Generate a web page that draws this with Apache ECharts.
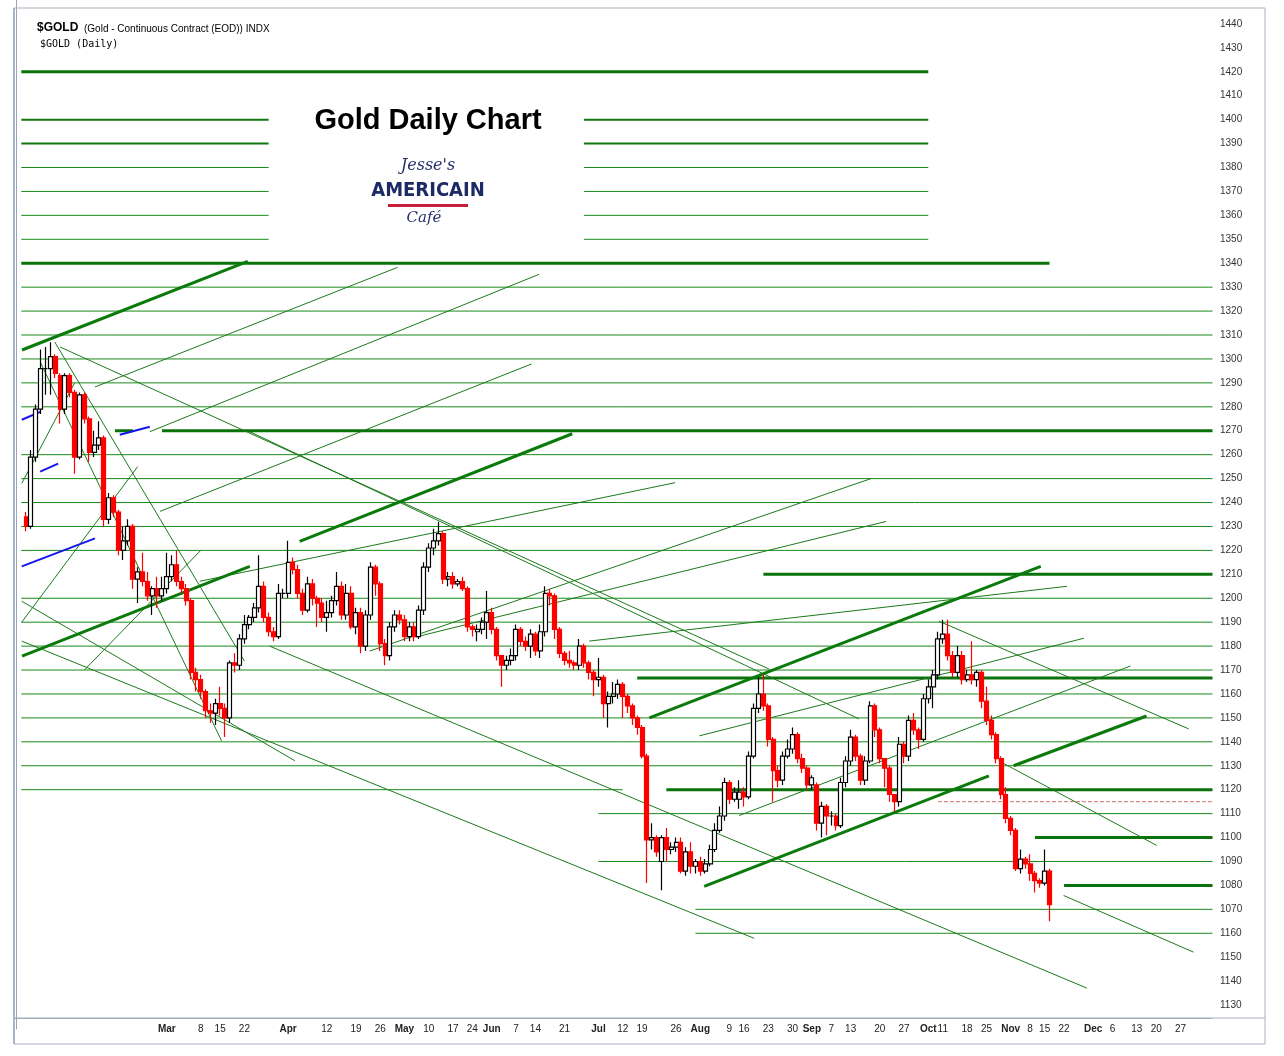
<!DOCTYPE html>
<html><head><meta charset="utf-8">
<script src="https://cdn.jsdelivr.net/npm/echarts@6/dist/echarts.min.js"></script>
<style>html,body{margin:0;padding:0;background:#fff}#c{width:1284px;height:1056px}</style>
</head><body><div id="c"></div>
<script>
// ---- DATA ----
const SLOTS = 247;           // trading-day slots on the x axis
const FIRST_SLOT = 2;        // slot of the first candle
// candles: [open, close, low, high]
const candles = [
[1234,1230,1228,1236],[1230,1259,1229,1262],[1259,1279,1257,1281],[1279,1296,1277,1304],[1296,1296,1285,1305],
[1296,1301,1285,1307],[1301,1294,1292,1302],[1293,1279,1273,1294],[1279,1293,1277,1294],[1293,1286,1284,1294],
[1286,1259,1252,1287],[1259,1285,1258,1286],[1285,1275,1273,1286],[1275,1261,1257,1276],[1261,1264,1259,1270],
[1264,1267,1262,1274],[1267,1233,1230,1268],[1233,1242,1231,1244],[1242,1236,1234,1243],[1236,1220,1218,1237],
[1220,1224,1216,1230],[1224,1230,1222,1233],[1230,1208,1204,1231],[1208,1211,1198,1213],[1211,1207,1205,1219],
[1207,1201,1199,1211],[1201,1204,1193,1205],[1204,1201,1196,1209],[1201,1204,1199,1209],[1204,1209,1202,1219],
[1209,1214,1207,1218],[1214,1207,1205,1220],[1207,1204,1202,1209],[1204,1199,1197,1206],[1199,1169,1166,1200],
[1169,1166,1161,1171],[1166,1161,1158,1168],[1161,1153,1150,1162],[1153,1152,1148,1156],[1152,1156,1147,1158],
[1156,1154,1151,1163],[1154,1150,1142,1156],[1150,1173,1148,1174],[1173,1172,1169,1177],[1172,1183,1170,1185],
[1183,1189,1181,1193],[1189,1192,1187,1193],[1192,1196,1190,1198],[1196,1205,1194,1218],[1205,1192,1190,1207],
[1192,1186,1184,1194],[1186,1184,1182,1188],[1184,1202,1183,1206],[1202,1202,1200,1204],[1202,1215,1200,1224],
[1215,1212,1210,1217],[1212,1202,1200,1214],[1202,1195,1193,1204],[1195,1206,1194,1209],[1206,1200,1197,1208],
[1200,1198,1188,1201],[1198,1192,1190,1200],[1192,1194,1186,1199],[1194,1199,1192,1201],[1199,1205,1197,1211],
[1205,1193,1191,1207],[1193,1202,1191,1206],[1202,1188,1187,1205],[1188,1194,1185,1196],[1194,1180,1177,1196],
[1180,1193,1178,1195],[1193,1213,1191,1215],[1213,1206,1201,1214],[1206,1181,1178,1207],[1181,1176,1172,1183],
[1176,1188,1174,1190],[1188,1193,1186,1195],[1193,1191,1189,1195],[1191,1184,1182,1193],[1184,1188,1182,1190],
[1188,1184,1182,1190],[1184,1195,1183,1197],[1195,1213,1193,1215],[1213,1221,1211,1223],[1221,1224,1218,1229],
[1224,1227,1222,1232],[1227,1208,1206,1228],[1208,1209,1205,1211],[1209,1206,1204,1211],[1206,1207,1205,1208],
[1207,1204,1203,1209],[1204,1188,1186,1205],[1188,1187,1184,1189],[1186,1187,1182,1189],[1187,1190,1185,1192],
[1190,1194,1183,1203],[1194,1187,1185,1196],[1187,1176,1174,1188],[1176,1172,1163,1174],[1172,1174,1170,1176],
[1174,1176,1172,1179],[1176,1187,1174,1189],[1187,1182,1180,1188],[1182,1180,1178,1184],[1180,1185,1175,1187],
[1185,1178,1176,1186],[1178,1186,1175,1189],[1186,1202,1184,1205],[1202,1201,1197,1204],[1201,1187,1183,1202],
[1187,1177,1175,1188],[1177,1174,1172,1178],[1174,1173,1171,1178],[1173,1172,1170,1174],[1172,1180,1170,1183],
[1180,1173,1171,1181],[1173,1169,1166,1174],[1169,1166,1159,1170],[1166,1167,1163,1175],[1167,1156,1150,1168],
[1156,1159,1146,1161],[1159,1160,1156,1165],[1160,1164,1158,1166],[1164,1159,1150,1165],[1159,1155,1152,1160],
[1155,1150,1147,1156],[1150,1146,1143,1151],[1146,1134,1133,1147],[1134,1099,1081,1135],[1099,1100,1095,1106],
[1100,1094,1092,1101],[1090,1100,1078,1101],[1100,1095,1090,1104],[1095,1096,1093,1098],[1096,1098,1094,1100],
[1098,1086,1085,1100],[1086,1094,1084,1096],[1094,1088,1085,1098],[1088,1090,1085,1091],[1090,1086,1084,1092],
[1086,1089,1085,1091],[1089,1095,1088,1097],[1095,1103,1094,1106],[1103,1109,1102,1113],[1109,1123,1107,1125],
[1123,1116,1114,1124],[1116,1119,1115,1121],[1116,1119,1112,1124],[1119,1117,1113,1121],[1117,1134,1116,1136],
[1134,1154,1133,1156],[1154,1160,1152,1167],[1160,1155,1153,1168],[1155,1141,1138,1156],[1141,1128,1115,1142],
[1128,1124,1121,1130],[1124,1134,1122,1136],[1134,1137,1133,1141],[1137,1143,1135,1146],[1143,1133,1131,1144],
[1133,1129,1127,1135],[1129,1122,1120,1130],[1122,1125,1120,1126],[1122,1106,1103,1123],[1106,1113,1100,1115],
[1113,1109,1101,1114],[1109,1109,1105,1111],[1109,1105,1103,1110],[1105,1123,1104,1125],[1123,1132,1121,1134],
[1132,1142,1130,1145],[1142,1134,1132,1143],[1134,1124,1122,1135],[1124,1132,1122,1134],[1132,1155,1131,1157],
[1155,1145,1142,1156],[1145,1133,1131,1146],[1133,1129,1121,1132],[1129,1118,1115,1130],[1118,1115,1111,1117],
[1115,1139,1113,1142],[1139,1134,1131,1140],[1134,1149,1132,1151],[1149,1145,1143,1152],[1145,1141,1137,1146],
[1141,1158,1140,1160],[1158,1163,1156,1166],[1163,1168,1154,1170],[1168,1183,1166,1186],[1183,1185,1181,1191],
[1185,1176,1174,1191],[1176,1169,1167,1178],[1169,1176,1167,1180],[1176,1166,1164,1178],[1166,1168,1165,1170],
[1168,1166,1164,1182],[1166,1169,1163,1170],[1169,1157,1154,1170],[1157,1149,1147,1163],[1149,1143,1141,1151],
[1143,1133,1131,1144],[1133,1118,1116,1134],[1118,1108,1106,1121],[1108,1103,1101,1109],[1103,1087,1086,1104],
[1087,1091,1085,1095],[1091,1089,1087,1092],[1089,1085,1082,1093],[1085,1082,1077,1086],[1082,1081,1079,1083],
[1081,1086,1080,1095],[1086,1072,1065,1087]
];
// x tick labels: [slot, text]
const tickLabels = [[31,'Mar'],[38,'8'],[42,'15'],[47,'22'],[56,'Apr'],[64,'12'],[70,'19'],[75,'26'],[80,'May'],
[85,'10'],[90,'17'],[94,'24'],[98,'Jun'],[103,'7'],[107,'14'],[113,'21'],[120,'Jul'],[125,'12'],[129,'19'],
[136,'26'],[141,'Aug'],[147,'9'],[150,'16'],[155,'23'],[160,'30'],[164,'Sep'],[168,'7'],[172,'13'],[178,'20'],
[183,'27'],[188,'Oct'],[191,'11'],[196,'18'],[200,'25'],[205,'Nov'],[209,'8'],[212,'15'],[216,'22'],[222,'Dec'],
[226,'6'],[231,'13'],[235,'20'],[240,'27']];
const monthNames = ['Mar','Apr','May','Jun','Jul','Aug','Sep','Oct','Nov','Dec'];
// horizontal levels: [price, fromSlot, toSlot]
const levelsThick = [[1420,1,188],[1340,1,213],[1270,30,246.6],[1270,20.3,24],[1210,154,246.6],[1120,134,246.6],
[1166.7,128,246.6],[1100,210,246.6],[1080,216,246.6]];
const levelsMid = [[1400,1,52],[1400,117,188],[1390,1,52],[1390,117,188]];
const levelsThin = [[1380,1,52],[1380,117,188],[1370,1,52],[1370,117,188],[1360,1,52],[1360,117,188],[1350,1,52],[1350,117,188],
[1330,1,246.6],[1320,1,246.6],[1310,1,246.6],[1300,1,246.6],[1290,1,246.6],[1280,1,246.6],[1260,1,246.6],[1250,1,246.6],
[1240,1,246.6],[1230,1,246.6],[1220,1,246.6],[1200,1,246.6],[1190,1,246.6],[1180,1,246.6],[1170,1,246.6],
[1160,1,246.6],[1150,1,246.6],[1140,1,246.6],[1130,1,246.6],[1120,1,125],[1110,120,246.6],[1090,120,246.6],
[1070,140,246.6],[1060,140,246.6]];
// trend lines: [[slot, price],[slot, price]]
const trendThick = [
[[1.15,1303.75],[47.7,1340.8]],[[58.4,1223.75],[114.6,1268.75]],[[1.15,1175.8],[48.1,1213.3]],
[[130.5,1150],[211.2,1213.3]],[[141.8,1079.6],[200.5,1125.8]],[[205.6,1130],[233,1150.8]]];
const trendThin = [
[[16.2,1288.3],[78.6,1338.3]],[[27.5,1269.6],[107.8,1335.4]],[[29.6,1236.3],[106.2,1297.9]],
[[37.8,1207.1],[135.8,1248.3]],[[72.8,1177.9],[176.2,1250]],[[83.1,1184.2],[179.3,1232.1]],
[[118.1,1182.1],[216.6,1205]],[[140.8,1142.5],[220.1,1183.3]],[[149,1109.2],[229.7,1171.7]],
[[9,1305],[155.2,1170.4]],[[7.9,1307.1],[47,1173.75]],[[4.9,1298.75],[42.3,1140.4]],
[[1.1,1198.75],[57.4,1132.1]],[[1.1,1182.1],[152.1,1057.9]],[[52.2,1180],[220.7,1037.1]],
[[48.1,1269.6],[173.7,1149.6]],[[190.2,1190.4],[241.7,1145.4]],[[202.5,1132.1],[235.1,1096.7]],
[[215.9,1075.8],[242.7,1052.1]],[[1.1,1248],[12,1290]],[[1.1,1190],[25,1255]],[[14,1170],[38,1220]]];
const trendBlue = [[[1.1,1274.6],[4.9,1277.9]],[[4.9,1252.9],[8.6,1256.25]],[[1.1,1213.3],[16.2,1225]],[[21.3,1268.3],[27.5,1271.7]]];
const dashedLevel = [[1115,190,246.6]];

// ---- BUILD ----
const cats = new Array(SLOTS).fill('');
tickLabels.forEach(([s,t])=>{cats[s]=t;});
const candleData = new Array(SLOTS).fill('-');
candles.forEach((c,i)=>{candleData[FIRST_SLOT+i]=c;});

const series = [];
function seg(pts, width, color, type){
  series.push({type:'line', xAxisIndex:1, yAxisIndex:0, data:pts, symbol:'none', silent:true,
    lineStyle:{width:width, color:color, type:type||'solid'}, z:1, animation:false});
}
levelsThin.forEach(([p,a,b])=>seg([[a,p],[b,p]],1,'#1a8a1a'));
levelsMid.forEach(([p,a,b])=>seg([[a,p],[b,p]],2,'#117711'));
levelsThick.forEach(([p,a,b])=>seg([[a,p],[b,p]],3,'#0a720a'));
trendThin.forEach(p=>seg(p,1,'#1a7a1a'));
trendThick.forEach(p=>seg(p,3,'#0a7a0a'));
trendBlue.forEach(p=>seg(p,2,'#1515ee'));
dashedLevel.forEach(([p,a,b])=>seg([[a,p],[b,p]],1,'#d07070','dashed'));
series.push({type:'candlestick', xAxisIndex:0, yAxisIndex:0, data:candleData, barWidth:4.5, z:5, animation:false,
  itemStyle:{color:'#ffffff', color0:'#ff0000', borderColor:'#000000', borderColor0:'#ff0000', borderWidth:1.2}});

const chart = echarts.init(document.getElementById('c'), null, {renderer:'canvas'});
chart.setOption({
  animation:false,
  grid:{left:14, right:72, top:-3, bottom:27, containLabel:false},
  xAxis:[{type:'category', data:cats, boundaryGap:true, offset:-11,
      axisLine:{show:true, lineStyle:{color:'#9aa4b4'}}, axisTick:{show:false},
      axisLabel:{interval:0, margin:6, fontSize:10, color:'#222', fontFamily:'Arial, Liberation Sans',
        formatter:v=>monthNames.includes(v)?'{b|'+v+'}':v, rich:{b:{fontWeight:'bold', fontSize:10, color:'#222'}}},
      splitLine:{show:false}},
    {type:'value', min:-0.5, max:SLOTS-0.5, show:false}],
  yAxis:[{type:'value', position:'right', min:1020, max:1450, interval:10, scale:true,
      axisLine:{show:true, lineStyle:{color:'#9aa4b4'}}, axisTick:{show:false}, splitLine:{show:false},
      axisLabel:{margin:8, fontSize:10, color:'#333', fontFamily:'Arial, Liberation Sans',
        formatter:v=>(v<1030||v>1440)?'':String(v<1070?v+100:v)}}],
  series:series,
  graphic:[
    {type:'rect', shape:{x:14,y:8,width:1251,height:1036}, style:{fill:'none', stroke:'#a8b0c0', lineWidth:1}, z:10},
    {type:'rect', shape:{x:13,y:8,width:2,height:1036}, style:{fill:'#a8b4c8'}, z:10},
    {type:'line', shape:{x1:14,y1:1018,x2:1265,y2:1018}, style:{stroke:'#a8b0c0'}, z:10},
    {type:'text', x:37, y:22, style:{text:'$GOLD', font:'bold 12px Arial, Liberation Sans', fill:'#000'}, z:11},
    {type:'text', x:84, y:24, style:{text:'(Gold - Continuous Contract (EOD)) INDX', font:'10px Arial, Liberation Sans', fill:'#000'}, z:11},
    {type:'text', x:40, y:39, style:{text:'$GOLD (Daily)', font:'10px "DejaVu Sans Mono", monospace', fill:'#000'}, z:11},
    {type:'text', x:428, y:121, style:{text:'Gold Daily Chart', font:'bold 29px Arial, Liberation Sans', fill:'#000', align:'center', verticalAlign:'middle'}, z:11},
    {type:'text', x:428, y:166, style:{text:"Jesse's", font:'italic 16px "DejaVu Serif", serif', fill:'#26306a', align:'center', verticalAlign:'middle'}, z:11},
    {type:'text', x:428, y:191, style:{text:'AMERICAIN', font:'bold 20px "Liberation Sans Narrow", "DejaVu Sans Condensed", sans-serif', fill:'#1c2a66', align:'center', verticalAlign:'middle'}, z:12},
    {type:'rect', shape:{x:388,y:204,width:80,height:3}, style:{fill:'#c8203a'}, z:12},
    {type:'text', x:424, y:218, style:{text:'Café', font:'italic 15px "DejaVu Serif", serif', fill:'#26306a', align:'center', verticalAlign:'middle'}, z:12}
  ]
});
</script></body></html>
